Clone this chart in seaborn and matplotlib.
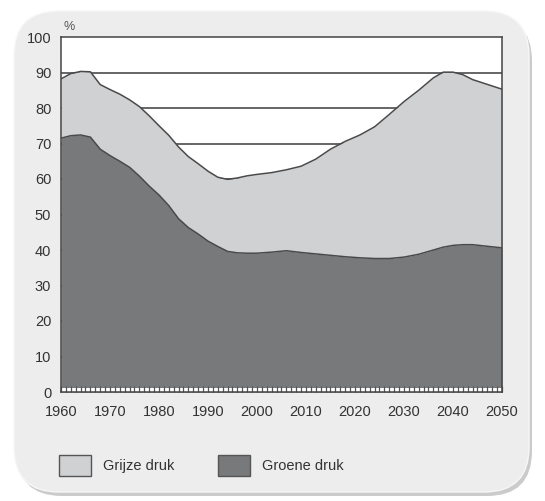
import numpy as np
import seaborn as sns
import matplotlib.pyplot as plt
from matplotlib.patches import FancyBboxPatch, Patch
from matplotlib.ticker import MultipleLocator

# jaartallen en gelezen waarden (%)
jaren = [1960, 1962, 1964, 1966, 1968, 1970, 1972, 1974, 1976, 1978,
         1980, 1982, 1984, 1986, 1988, 1990, 1992, 1994, 1996, 1998,
         2000, 2003, 2006, 2009, 2012, 2015, 2018, 2021, 2024, 2027,
         2030, 2033, 2036, 2038, 2040, 2042, 2044, 2046, 2048, 2050]

# totale druk (bovenkant grijze druk)
totale_druk = [88.2, 89.7, 90.3, 90.2, 86.6, 85.2, 83.9, 82.3, 80.4, 77.8,
               75.0, 72.3, 69.0, 66.3, 64.3, 62.2, 60.5, 59.9, 60.3, 60.9,
               61.3, 61.8, 62.6, 63.6, 65.6, 68.4, 70.6, 72.4, 74.7, 78.2,
               81.8, 85.0, 88.5, 90.1, 90.1, 89.4, 88.0, 87.1, 86.2, 85.3]

groene_druk = [71.5, 72.2, 72.4, 71.8, 68.4, 66.6, 65.0, 63.3, 60.8, 58.0,
               55.5, 52.5, 48.8, 46.3, 44.5, 42.5, 41.0, 39.6, 39.2, 39.1,
               39.1, 39.4, 39.8, 39.3, 38.9, 38.5, 38.1, 37.8, 37.6, 37.6,
               38.0, 38.8, 40.0, 40.8, 41.3, 41.5, 41.5, 41.2, 40.9, 40.6]

licht = '#d0d1d3'
donker = '#78797b'
lijn = '#4a4a4a'
tekst = '#333333'

sns.set_style('white')
plt.rcParams['font.family'] = ['Liberation Sans', 'DejaVu Sans']

fig = plt.figure(figsize=(5.45, 5.01), dpi=100)
fig.patch.set_facecolor('white')

# kaart met schaduw
schaduw = FancyBboxPatch((0.17, 0.05), 5.15, 4.80, boxstyle='round,pad=0,rounding_size=0.45',
                         transform=fig.dpi_scale_trans, facecolor='#b5b5b5', edgecolor='none', alpha=0.7)
kaart = FancyBboxPatch((0.14, 0.09), 5.15, 4.81, boxstyle='round,pad=0,rounding_size=0.45',
                       transform=fig.dpi_scale_trans, facecolor='#ededed', edgecolor='#f7f7f7', lw=1)
fig.add_artist(schaduw)
fig.add_artist(kaart)

ax = fig.add_axes([61 / 545, 109 / 501, 441 / 545, 355 / 501])
ax.set_zorder(2)
ax.set_facecolor('white')

# rasterlijnen achter de vlakken
for y in range(10, 100, 10):
    ax.axhline(y, color='#3c3c3c', lw=1.1, zorder=0.5)

ax.fill_between(jaren, groene_druk, totale_druk, color=licht, lw=0, zorder=1)
ax.fill_between(jaren, 0, groene_druk, color=donker, lw=0, zorder=1)
sns.lineplot(x=jaren, y=totale_druk, ax=ax, color=lijn, lw=1.1, zorder=2)
sns.lineplot(x=jaren, y=groene_druk, ax=ax, color=lijn, lw=1.1, zorder=2)

# witte strook met jaarstreepjes onderaan
ax.axhspan(0, 1.1, color='white', lw=0, zorder=1.5)

ax.set_xlim(1960, 2050)
ax.set_ylim(0, 100)
ax.set_yticks(range(0, 101, 10))
ax.set_xticks(range(1960, 2051, 10))
ax.xaxis.set_minor_locator(MultipleLocator(1))
ax.set_axisbelow(False)
ax.grid(False)

ax.tick_params(axis='y', length=0, pad=7, labelsize=10.5, labelcolor=tekst)
ax.tick_params(axis='x', which='both', direction='in', length=4, width=0.9,
               color='#555555', bottom=True, top=False, pad=9, labelsize=10.5, labelcolor=tekst)
for s in ax.spines.values():
    s.set_color('#444444')
    s.set_linewidth(1.1)
    s.set_zorder(3)
ax.set_xlabel('')
ax.set_ylabel('')

ax.text(0.005, 1.012, '%', transform=ax.transAxes, fontsize=9, color='#555555', va='bottom')

handles = [Patch(facecolor=licht, edgecolor='#555555', lw=1, label='Grijze druk'),
           Patch(facecolor=donker, edgecolor='#555555', lw=1, label='Groene druk')]
fig.legend(handles=handles, loc='lower left', bbox_to_anchor=(46 / 545, 12 / 501), ncol=2,
           frameon=False, fontsize=10.5, labelcolor=tekst, handlelength=2.2, handleheight=1.8,
           handletextpad=0.8, columnspacing=3.0)

fig.savefig('out.png', dpi=100)
